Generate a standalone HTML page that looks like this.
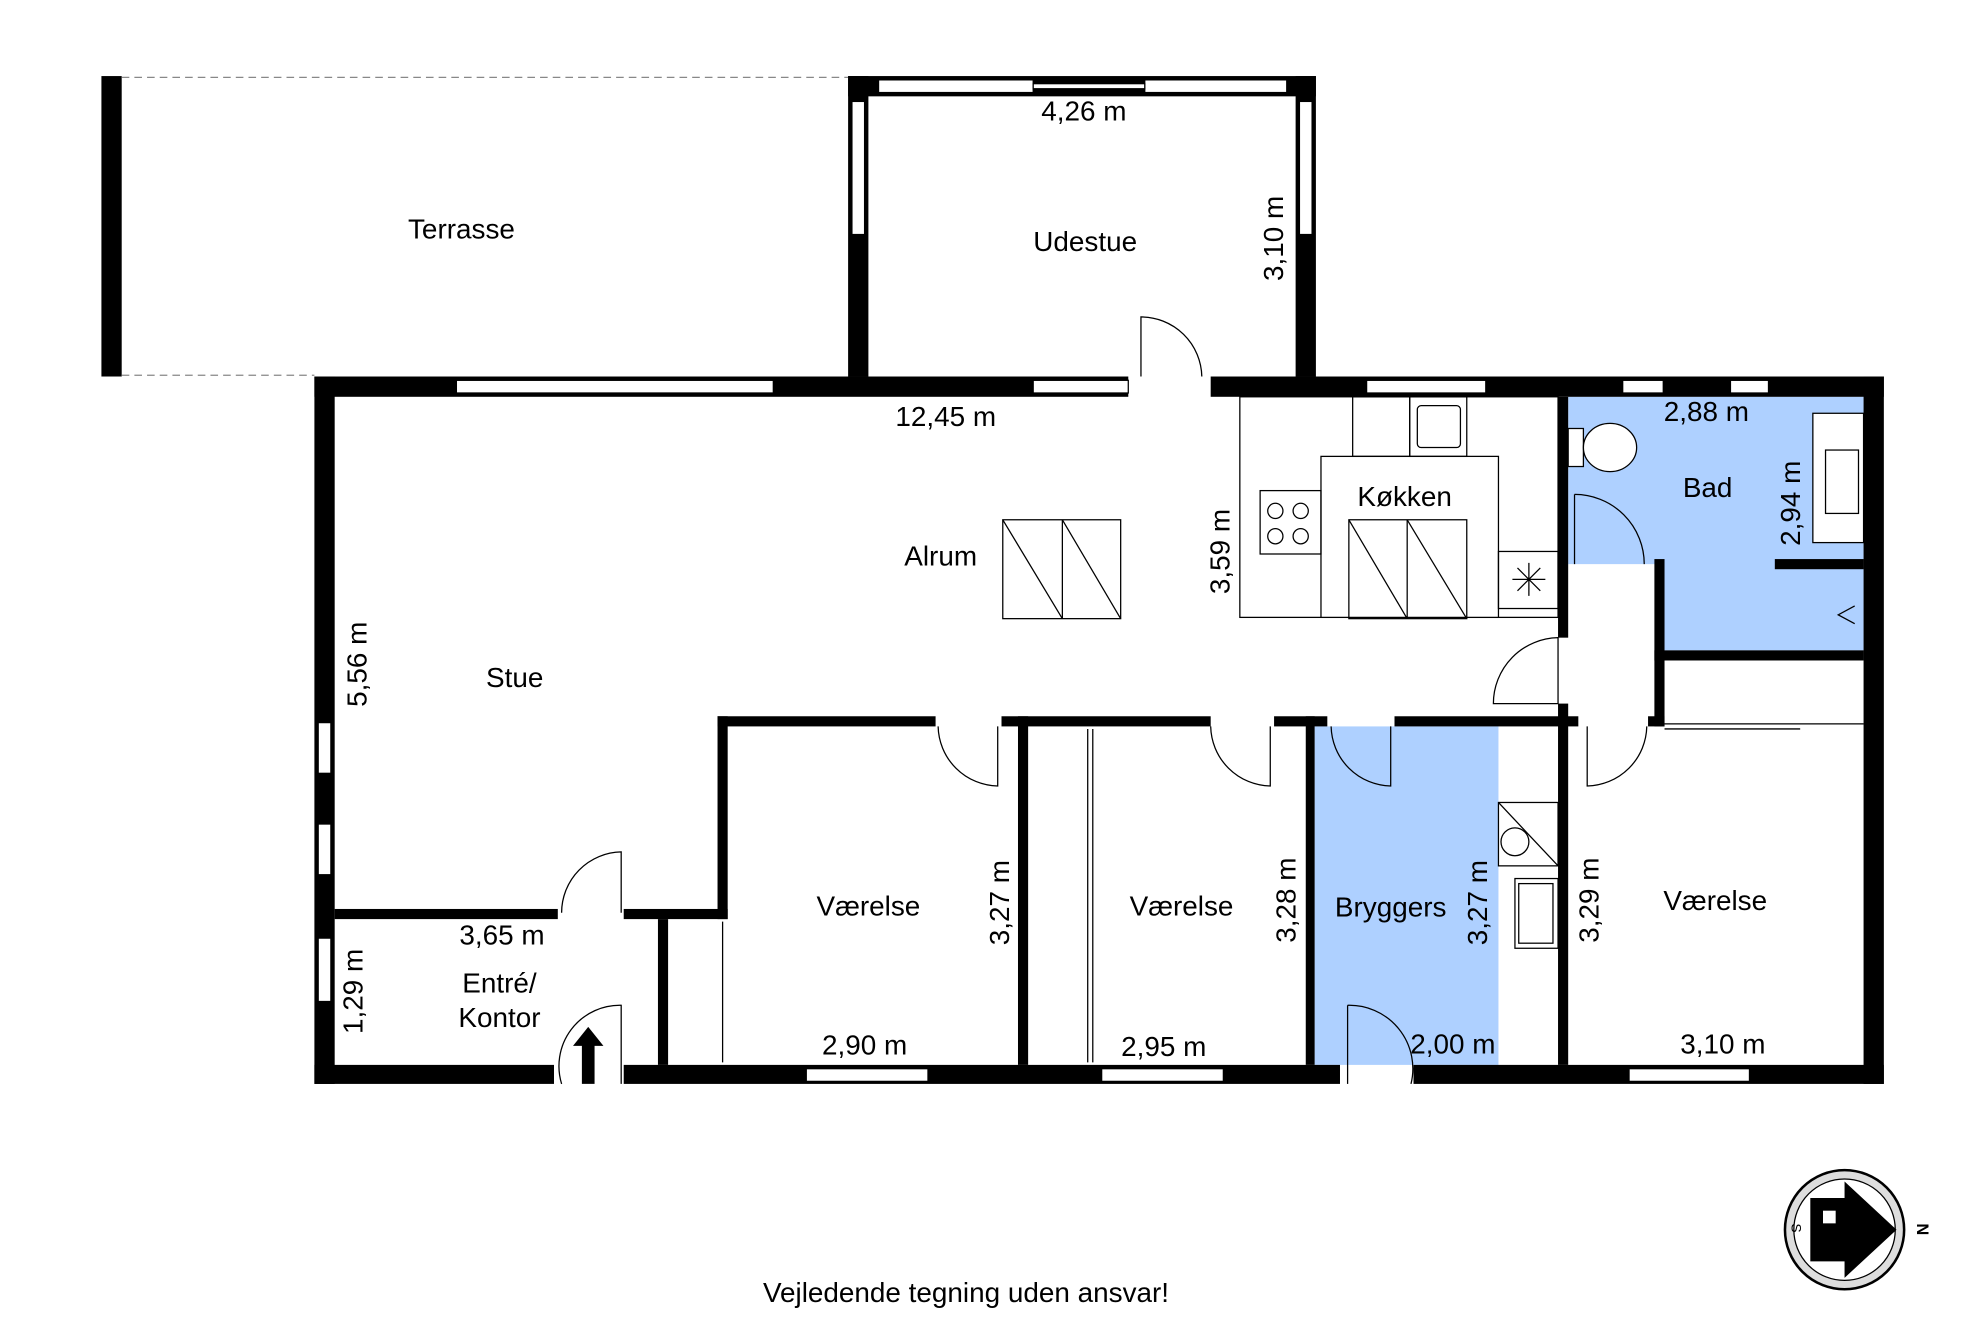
<!DOCTYPE html>
<html><head><meta charset="utf-8"><style>html,body{margin:0;padding:0;background:#fff}svg{display:block}text{font-family:"Liberation Sans",sans-serif;fill:#000}</style></head><body>
<svg width="1984" height="1323" viewBox="0 0 1565 1043.6" preserveAspectRatio="none" xmlns="http://www.w3.org/2000/svg">
<rect width="1565" height="1044" fill="#fff"/>
<path d="M1237 313H1470V513H1313V445H1237Z" fill="#aed0ff"/>
<rect x="1037" y="573" width="145" height="267" fill="#aed0ff"/>
<rect x="80" y="60" width="16" height="237" fill="#000"/>
<line x1="96" y1="61" x2="669" y2="61" stroke="#888" stroke-dasharray="6,4"/>
<line x1="96" y1="296" x2="248" y2="296" stroke="#888" stroke-dasharray="6,4"/>
<g fill="#000">
<rect x="669" y="60" width="16" height="237"/>
<rect x="669" y="60" width="369" height="16"/>
<rect x="1022" y="60" width="16" height="237"/>
<rect x="248" y="297" width="642" height="16"/>
<rect x="955" y="297" width="531" height="16"/>
<rect x="248" y="297" width="16" height="558"/>
<rect x="1470" y="297" width="16" height="558"/>
<rect x="248" y="840" width="189" height="15"/>
<rect x="492" y="840" width="565" height="15"/>
<rect x="1115" y="840" width="371" height="15"/>
<rect x="264" y="717" width="176" height="8"/>
<rect x="492" y="717" width="82" height="8"/>
<rect x="566" y="565" width="8" height="160"/>
<rect x="519" y="725" width="8" height="115"/>
<rect x="566" y="565" width="172" height="8"/>
<rect x="790" y="565" width="165" height="8"/>
<rect x="1005" y="565" width="42" height="8"/>
<rect x="1100" y="565" width="145" height="8"/>
<rect x="803" y="565" width="8" height="275"/>
<rect x="1030" y="565" width="7" height="275"/>
<rect x="1229" y="313" width="8" height="190"/>
<rect x="1229" y="555" width="8" height="285"/>
<rect x="1305" y="441" width="8" height="132"/>
<rect x="1300" y="565" width="13" height="8"/>
<rect x="1305" y="513" width="165" height="8"/>
<rect x="1400" y="441" width="70" height="8"/>
</g>
<g fill="#fff" stroke="#000" stroke-width="1">
<rect x="693" y="63" width="122" height="10"/><rect x="903" y="63" width="112" height="10"/><rect x="815" y="66" width="88" height="4"/>
<rect x="672" y="80" width="10" height="105"/><rect x="1025" y="80" width="10" height="105"/>
<rect x="360" y="300" width="250" height="10"/><rect x="815" y="300" width="75" height="10"/>
<rect x="1078" y="300" width="94" height="10"/><rect x="1280" y="300" width="32" height="10"/><rect x="1365" y="300" width="30" height="10"/>
<rect x="251" y="570" width="10" height="40"/><rect x="251" y="650" width="10" height="40"/><rect x="251" y="740" width="10" height="50"/>
<rect x="636" y="843" width="96" height="10"/><rect x="869" y="843" width="96" height="10"/><rect x="1285" y="843" width="95" height="10"/>
</g>
<g fill="none" stroke="#000" stroke-width="1">
<path d="M900 297V250A48 48 0 0 1 948 297"/>
<path d="M740 573A48 48 0 0 0 787 620V573"/>
<path d="M955 573A48 48 0 0 0 1002 620V573"/>
<path d="M1050 573A48 48 0 0 0 1097 620V573"/>
<path d="M1252 573V620A48 48 0 0 0 1299 573"/>
<path d="M1178 555A52 52 0 0 1 1229 503V555Z"/>
<path d="M1242 390A55 55 0 0 1 1297 445"/><line x1="1242" y1="390" x2="1242" y2="445"/>
<path d="M443 720A48 48 0 0 1 490 672V720"/>
<path d="M443 855A48 48 0 0 1 490 793V855"/>
<path d="M1063 793A50 50 0 0 1 1113 855"/><line x1="1063" y1="793" x2="1063" y2="855"/>
<line x1="1313" y1="571" x2="1470" y2="571"/><line x1="1313" y1="575" x2="1420" y2="575"/>
<line x1="858" y1="575" x2="858" y2="838"/><line x1="862" y1="575" x2="862" y2="838"/>
<line x1="570" y1="727" x2="570" y2="838"/>
<rect x="978" y="313" width="251" height="174"/>
<rect x="1042" y="360" width="140" height="127" fill="#fff"/>
<rect x="1067" y="313" width="45" height="47"/><rect x="1112" y="313" width="45" height="47"/>
<rect x="1118" y="320" width="34" height="33" rx="3"/>
<rect x="994" y="387" width="48" height="50"/>
<circle cx="1006" cy="403" r="6"/><circle cx="1026" cy="403" r="6"/><circle cx="1006" cy="423" r="6"/><circle cx="1026" cy="423" r="6"/>
<rect x="1064" y="410" width="93" height="78"/><line x1="1110" y1="410" x2="1110" y2="488"/><line x1="1064" y1="410" x2="1110" y2="488"/><line x1="1110" y1="410" x2="1157" y2="488"/>
<rect x="1182" y="435" width="47" height="45"/>
<path d="M1193 457H1219M1206 444V470M1197 448L1215 466M1215 448L1197 466"/>
<rect x="791" y="410" width="93" height="78"/><line x1="838" y1="410" x2="838" y2="488"/><line x1="791" y1="410" x2="838" y2="488"/><line x1="838" y1="410" x2="884" y2="488"/>
<rect x="1237" y="338" width="12" height="30" fill="#fff"/><ellipse cx="1270" cy="353" rx="21" ry="19" fill="#fff"/>
<rect x="1430" y="326" width="40" height="102" fill="#fff"/><rect x="1440" y="355" width="26" height="50" fill="#fff"/>
<path d="M1463 478L1450 485L1463 492"/>
<rect x="1182" y="633" width="47" height="50" fill="#fff"/><line x1="1182" y1="633" x2="1229" y2="683"/>
<circle cx="1195" cy="664" r="11"/>
<rect x="1195" y="693" width="34" height="55" fill="#fff"/><rect x="1198" y="697" width="27" height="47"/>
</g>
<path d="M464 810L476 825H469V855H459V825H452Z" fill="#000"/>
<circle cx="1455" cy="970" r="47" fill="#ddd" stroke="#000" stroke-width="2"/>
<circle cx="1455" cy="970" r="40" fill="#fff" stroke="#000"/>
<path d="M1428 945H1455V932L1496 970L1455 1008V995H1428Z" fill="#000"/>
<rect x="1438" y="955" width="10" height="10" fill="#fff"/>
<text x="1512" y="965" font-size="13" font-weight="bold" transform="rotate(90 1512 965)">N</text>
<text x="1413" y="965" font-size="11" transform="rotate(90 1413 965)">S</text>
<g font-size="22" text-anchor="middle">
<text x="364" y="188">Terrasse</text>
<text x="856" y="198">Udestue</text>
<text x="855" y="95">4,26 m</text>
<text x="746" y="336">12,45 m</text>
<text x="742" y="446">Alrum</text>
<text x="1108" y="399">Køkken</text>
<text x="1346" y="332">2,88 m</text>
<text x="1347" y="392">Bad</text>
<text x="406" y="542">Stue</text>
<text x="396" y="745">3,65 m</text>
<text x="394" y="783">Entré/</text>
<text x="394" y="810">Kontor</text>
<text x="685" y="722">Værelse</text>
<text x="682" y="832">2,90 m</text>
<text x="932" y="722">Værelse</text>
<text x="918" y="833">2,95 m</text>
<text x="1097" y="723">Bryggers</text>
<text x="1146" y="831">2,00 m</text>
<text x="1353" y="718">Værelse</text>
<text x="1359" y="831">3,10 m</text>
<text x="762" y="1027">Vejledende tegning uden ansvar!</text>
</g>
<g font-size="22" text-anchor="middle">
<text transform="translate(1012 188) rotate(-90)">3,10 m</text>
<text transform="translate(970 435) rotate(-90)">3,59 m</text>
<text transform="translate(1420 397) rotate(-90)">2,94 m</text>
<text transform="translate(289 524) rotate(-90)">5,56 m</text>
<text transform="translate(286 782) rotate(-90)">1,29 m</text>
<text transform="translate(796 712) rotate(-90)">3,27 m</text>
<text transform="translate(1022 710) rotate(-90)">3,28 m</text>
<text transform="translate(1173 712) rotate(-90)">3,27 m</text>
<text transform="translate(1261 710) rotate(-90)">3,29 m</text>
</g>
</svg>
</body></html>
